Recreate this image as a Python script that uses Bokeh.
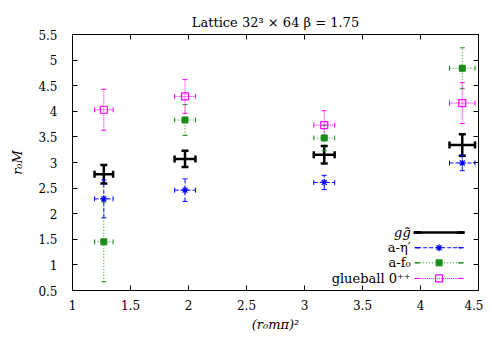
from bokeh.plotting import figure
from bokeh.models import (ColumnDataSource, Whisker, TeeHead, LinearAxis, Range1d,
                          FixedTicker, CustomJSTickFormatter)
from bokeh.core.properties import value
from bokeh.embed import file_html
from bokeh.resources import INLINE

# ---- data ----
x_vals = [1.27, 1.97, 3.17, 4.36]
x_err = [0.08, 0.09, 0.09, 0.11]
gg = [2.77, 3.07, 3.15, 3.34]
gg_err = [0.18, 0.16, 0.17, 0.21]
eta = [2.29, 2.46, 2.61, 2.99]
eta_err = [0.37, 0.22, 0.14, 0.15]
f0 = [1.45, 3.83, 3.48, 4.84]
f0_err = [0.78, 0.30, 0.25, 0.40]
glue = [4.03, 4.29, 3.73, 4.16]
glue_err = [0.40, 0.33, 0.28, 0.40]

x_ticks = [1, 1.5, 2, 2.5, 3, 3.5, 4, 4.5]
y_ticks = [0.5, 1, 1.5, 2, 2.5, 3, 3.5, 4, 4.5, 5, 5.5]

labels = ["g\u0067\u0303", "a-\u03b7\u2032", "a-f\u2080", "glueball 0\u207a\u207a"]

F = "DejaVu Serif"

p = figure(width=483, height=334, x_range=Range1d(1, 4.5), y_range=Range1d(0.5, 5.5),
           output_backend="svg", toolbar_location=None,
           min_border_left=72, min_border_right=5, min_border_top=34, min_border_bottom=40)
p.grid.visible = False
p.outline_line_color = "black"
p.outline_line_width = 1

p.title.text = "Lattice 32\u00b3 \u00d7 64 \u03b2 = 1.75"
p.title.align = "center"
p.title.text_font = F
p.title.text_font_style = "normal"
p.title.text_font_size = "13px"
p.title.text_color = "black"

fmt = CustomJSTickFormatter(code="return tick.toString();")
blank = CustomJSTickFormatter(code="return '';")
for ax in (p.xaxis[0], p.yaxis[0]):
    ax.major_tick_in = 5
    ax.major_tick_out = 0
    ax.minor_tick_line_color = None
    ax.major_label_text_font = F
    ax.major_label_text_font_size = "12px"
    ax.major_label_text_color = "black"
    ax.axis_label_text_font = F
    ax.axis_label_text_font_style = "italic"
    ax.axis_label_text_font_size = "13px"
    ax.axis_label_text_color = "black"
    ax.formatter = fmt
    ax.axis_line_color = "black"
    ax.major_tick_line_color = "black"
p.xaxis[0].ticker = FixedTicker(ticks=x_ticks)
p.yaxis[0].ticker = FixedTicker(ticks=y_ticks)
p.xaxis[0].axis_label = "(r\u2080m\u03c0)\u00b2"
p.yaxis[0].axis_label = "r\u2080M"
p.xaxis[0].major_label_standoff = 9
p.xaxis[0].axis_label_standoff = 4
p.yaxis[0].major_label_standoff = 15
p.yaxis[0].axis_label_standoff = 10

for loc, tk, so in (("above", x_ticks, 8), ("right", y_ticks, 0)):
    ax = LinearAxis(ticker=FixedTicker(ticks=tk), major_tick_in=5, major_tick_out=0,
                    minor_tick_line_color=None, formatter=blank,
                    axis_line_color="black", major_label_standoff=so)
    p.add_layout(ax, loc)

series = [
    (gg, gg_err, "black", 2.5, "solid", None, 7),
    (eta, eta_err, "#0000ff", 1, "4 2", "asterisk", 5),
    (f0, f0_err, "#1a8c1a", 1, "1 2", "square", 5),
    (glue, glue_err, "#ff00ff", 1, "1 1", "square", 5),
]

def draw_marker(src, xcol, col, mk):
    if mk == "asterisk":
        p.scatter(xcol, "y", source=src, marker="asterisk", size=7, line_color=col, line_width=1.2)
    elif mk == "square" and col == "#1a8c1a":
        p.scatter(xcol, "y", source=src, marker="square", size=6, fill_color=col, line_color=col)
    elif mk == "square":
        p.scatter(xcol, "y", source=src, marker="square", size=7, fill_color=None, line_color=col, line_width=1.2)

for vals, errs, col, lw, dash, mk, cap in series:
    src = ColumnDataSource(dict(
        x=x_vals, y=vals,
        yl=[v - e for v, e in zip(vals, errs)], yu=[v + e for v, e in zip(vals, errs)],
        xl=[x - e for x, e in zip(x_vals, x_err)], xu=[x + e for x, e in zip(x_vals, x_err)],
    ))
    for base, lo, up, dim in (("x", "yl", "yu", "height"), ("y", "xl", "xu", "width")):
        w = Whisker(source=src, base=base, lower=lo, upper=up, dimension=dim,
                    line_color=col, line_width=lw, line_dash=dash,
                    upper_head=TeeHead(size=cap, line_color=col, line_width=lw),
                    lower_head=TeeHead(size=cap, line_color=col, line_width=lw))
        p.add_layout(w)
    draw_marker(src, "x", col, mk)

# ---- legend (placed by fractions of the ranges) ----
xr0, xr1 = 1.0, 4.5
yr0, yr1 = 0.5, 5.5
def fx(f):
    return xr0 + f * (xr1 - xr0)
def fy(f):
    return yr0 + f * (yr1 - yr0)

row_f = [0.227, 0.167, 0.108, 0.047]
for i, ((vals, errs, col, lw, dash, mk, cap), lab) in enumerate(zip(series, labels)):
    yy = fy(row_f[i])
    x0, x1, xm = fx(0.849), fx(0.957), fx(0.903)
    lsrc = ColumnDataSource(dict(x0=[x0], x1=[x1], y=[yy], xm=[xm], lab=[lab], xt=[fx(0.833)]))
    p.segment("x0", "y", "x1", "y", source=lsrc, line_color=col, line_width=lw, line_dash=dash)
    for xc in ("x0", "x1"):
        w = Whisker(source=lsrc, base=xc, lower="y", upper="y", dimension="height",
                    line_color=col, line_width=lw,
                    upper_head=TeeHead(size=cap, line_color=col, line_width=lw),
                    lower_head=TeeHead(size=cap, line_color=col, line_width=lw))
        p.add_layout(w)
    draw_marker(lsrc, "xm", col, mk)
    p.text("xt", "y", text="lab", source=lsrc, text_align="right", text_baseline="middle",
           text_font=value(F), text_font_size="13px",
           text_font_style="italic" if i == 0 else "normal")

open("out.html", "w").write(file_html(p, INLINE))
